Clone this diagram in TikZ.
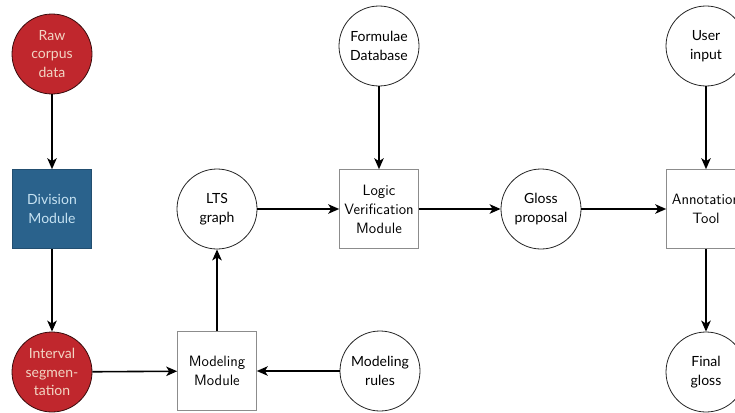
\documentclass[tikz,border=0pt]{standalone}
\usepackage{fontspec}
\newfontfamily\circfont{Lato}
\usetikzlibrary{arrows.meta}
\definecolor{corpusred}{HTML}{C0272D}
\definecolor{corpustext}{HTML}{F2D6C4}
\definecolor{modblue}{HTML}{2A628C}
\definecolor{modtext}{HTML}{C6E2F2}
\tikzset{
  circ/.style={circle, draw=black!85, line width=0.8pt, fill=white,
    minimum size=80pt, inner sep=0pt, align=center,
    font=\circfont\fontsize{14}{18.5}\selectfont},
  redcirc/.style={circ, fill=corpusred, draw=black!70!corpusred, text=corpustext},
  box/.style={rectangle, draw=black!45, line width=0.6pt, fill=white,
    minimum size=79pt, inner sep=0pt, align=center,
    font=\sffamily\fontsize{15}{19}\selectfont},
  bluebox/.style={box, fill=modblue, draw=modblue!80!black, text=modtext,
    font=\circfont\fontsize{14}{19}\selectfont},
  flow/.style={line width=1.6pt, -{Stealth[length=11pt,width=9.5pt,inset=3pt]}}
}
\begin{document}
\begin{tikzpicture}[x=1pt,y=-1pt]
  \useasboundingbox (0,0) rectangle (735,412);
  \clip (0,0) rectangle (735,412);
  \fill[white] (0,0) rectangle (735,412);

  % nodes
  \node[redcirc] (raw) at (52,54) {Raw\\corpus\\data};
  \node[bluebox] (div) at (52,209) {Division\\Module};
  \node[redcirc] (seg) at (52,372) {Interval\\segmen-\\tation};
  \node[box] (model) at (217,371) {Modeling\\Module};
  \node[circ] (lts) at (217,209) {LTS\\graph};
  \node[circ] (rules) at (380,371) {Modeling\\rules};
  \node[circ] (formulae) at (379,46) {Formulae\\Database};
  \node[box] (logic) at (379,209) {Logic\\Verification\\Module};
  \node[circ] (gloss) at (541,209) {Gloss\\proposal};
  \node[circ] (user) at (706,46) {User\\input};
  \node[box] (annot) at (706,209) {Annotation\\Tool};
  \node[circ] (final) at (706,372) {Final\\gloss};

  % connectors
  \draw[flow] (raw) -- (div);
  \draw[flow] (div) -- (seg);
  \draw[flow] (seg) -- (model);
  \draw[flow] (model) -- (lts);
  \draw[flow] (lts) -- (logic);
  \draw[flow] (formulae) -- (logic);
  \draw[flow] (rules) -- (model);
  \draw[flow] (logic) -- (gloss);
  \draw[flow] (gloss) -- (annot);
  \draw[flow] (user) -- (annot);
  \draw[flow] (annot) -- (final);
\end{tikzpicture}
\end{document}
